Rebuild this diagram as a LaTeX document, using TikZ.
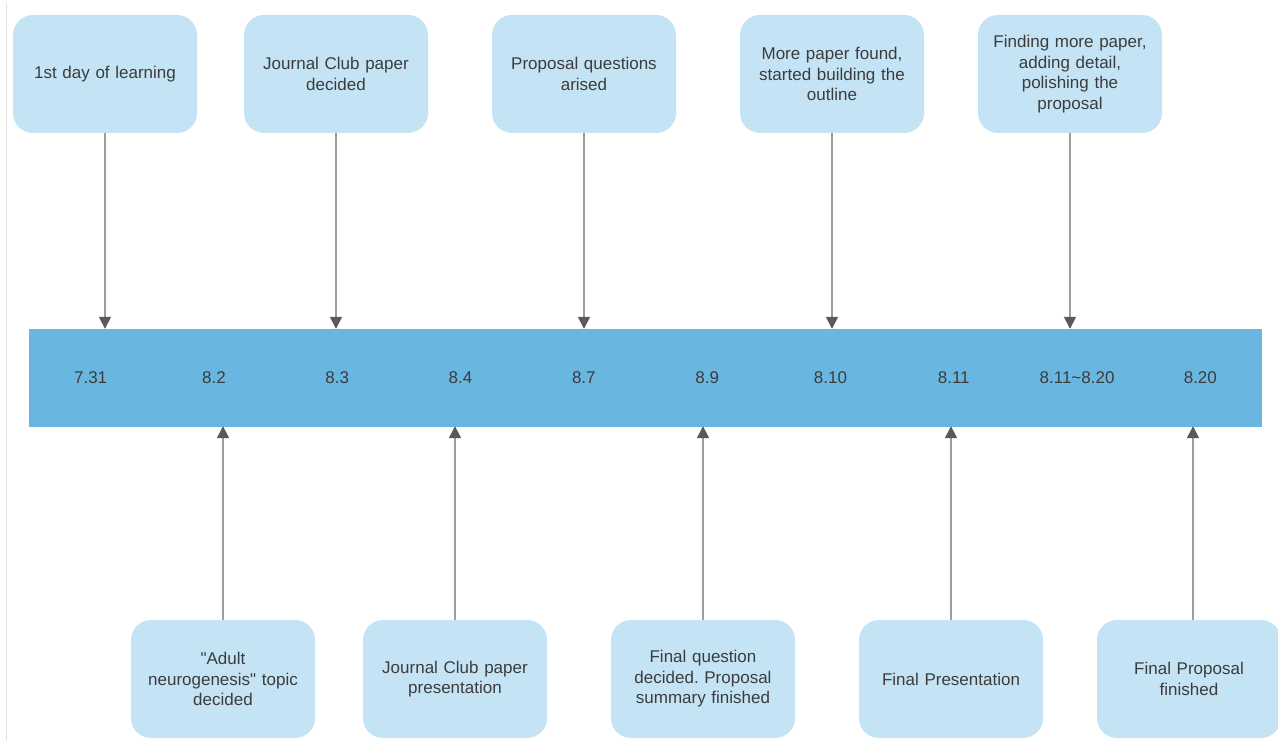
\documentclass[tikz,border=0pt]{standalone}
\usepackage{fontspec}
\setmainfont{Liberation Sans}[Ligatures=TeXOff]
\usetikzlibrary{arrows.meta}
\definecolor{boxfill}{HTML}{C4E4F5}
\definecolor{barfill}{HTML}{69B7E0}
\definecolor{txt}{HTML}{3C3C3C}
\definecolor{lnc}{HTML}{9E9E9E}
\definecolor{headc}{HTML}{595959}
\tikzset{
  evbox/.style={draw=none, fill=boxfill, rounded corners=20pt, minimum width=184pt, minimum height=118pt,
    align=center, text=txt, font=\fontsize{17}{20.5}\selectfont, inner sep=0pt, text width=170pt},
  cell/.style={draw=none, fill=barfill, minimum width=123.3pt, minimum height=98pt, inner sep=0pt,
    text=txt, font=\fontsize{17}{20.5}\selectfont},
  conn/.style={draw=lnc, line width=1.6pt, -{Triangle[width=12pt,length=12pt,color=headc]}, shorten >=-0.5pt}
}
\begin{document}
\frenchspacing
\begin{tikzpicture}[x=1pt,y=-1pt]
\useasboundingbox (0,0) rectangle (1278,741);
\fill[white] (0,0) rectangle (1278,741);
\draw[draw=black!12, line width=1pt] (6.5,3) -- (6.5,741);
% bar cells
\foreach \t [count=\i] in {7.31,8.2,8.3,8.4,8.7,8.9,8.10,8.11,8.11\char`~8.20,8.20}{
  \node[cell] (d\i) at ({29+123.3*(\i-0.5)},377.5) {\t};
}
% top boxes
\node[evbox] (t1) at (105,74) {1st day of learning};
\node[evbox] (t2) at (336,74) {Journal Club paper\\decided};
\node[evbox] (t3) at (584,74) {Proposal questions\\arised};
\node[evbox] (t4) at (832,74) {More paper found,\\started building the\\outline};
\node[evbox] (t5) at (1070,74) {Finding more paper,\\adding detail,\\polishing the\\proposal};
% bottom boxes
\node[evbox] (b1) at (223,679) {"Adult\\neurogenesis" topic\\decided};
\node[evbox] (b2) at (455,679) {Journal Club paper\\presentation};
\node[evbox] (b3) at (703,679) {Final question\\decided. Proposal\\summary finished};
\node[evbox] (b4) at (951,679) {Final Presentation};
\node[evbox] (b5) at (1189,679) {Final Proposal\\finished};
% connectors
\draw[conn] (t1.south) -- (t1.south |- d1.north);
\draw[conn] (t2.south) -- (t2.south |- d3.north);
\draw[conn] (t3.south) -- (t3.south |- d5.north);
\draw[conn] (t4.south) -- (t4.south |- d7.north);
\draw[conn] (t5.south) -- (t5.south |- d9.north);
\draw[conn] (b1.north) -- (b1.north |- d2.south);
\draw[conn] (b2.north) -- (b2.north |- d4.south);
\draw[conn] (b3.north) -- (b3.north |- d6.south);
\draw[conn] (b4.north) -- (b4.north |- d8.south);
\draw[conn] ([xshift=4pt]b5.north) -- ([xshift=4pt]b5.north |- d10.south);
\end{tikzpicture}
\end{document}
